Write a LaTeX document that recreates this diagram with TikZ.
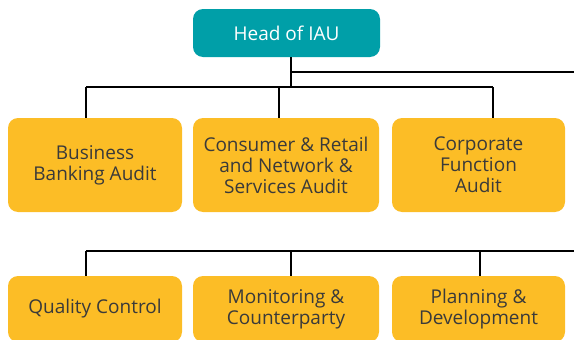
\documentclass[tikz,border=0pt]{standalone}
\usepackage{fontspec}
\setmainfont{Open Sans}
\usetikzlibrary{positioning}
\definecolor{iauteal}{HTML}{009FA8}
\definecolor{iauyellow}{HTML}{FCBD26}
\definecolor{iautext}{HTML}{3A3A3A}

\begin{document}
\begin{tikzpicture}[x=1pt, y=-1pt,
  unit/.style={fill=iauyellow, rounded corners=10pt, text=iautext,
    font=\fontsize{19}{21}\selectfont, align=center,
    inner sep=0pt, minimum height=94pt},
  headbox/.style={unit, fill=iauteal, text=white, minimum height=48pt},
  lowunit/.style={unit, minimum height=66pt},
  link/.style={draw=black, line width=1.4pt}]
\useasboundingbox (0,0) rectangle (574,340);
\node[headbox, minimum width=187pt] (head) at (286.5,33) {Head of IAU};
% first row
\node[unit, minimum width=174pt] (bba) at (95,165) {Business\\Banking Audit};
\node[unit, minimum width=186pt] (crs) at (286,165) {Consumer \& Retail\\and Network \&\\Services Audit};
\node[unit, minimum width=173pt] (cfa) at (478.5,165) {Corporate\\Function\\Audit};
% second row
\node[lowunit, minimum width=174pt] (qc) at (95,309) {Quality Control};
\node[lowunit, minimum width=186pt] (mc) at (286,309) {Monitoring \&\\Counterparty};
\node[lowunit, minimum width=173pt] (pd) at (478.5,309) {Planning \&\\Development};
% joints
\coordinate (hub) at (291,87);
\coordinate (east1) at (574,72);
\coordinate (d1) at (86,87);
\coordinate (d2) at (279,87);
\coordinate (d3) at (493,87);
\coordinate (e1) at (86,251);
\coordinate (e2) at (291,251);
\coordinate (e3) at (480,251);
\coordinate (east2) at (574,251);
\draw[link] (head.south -| hub) -- (hub);
\draw[link] (hub |- east1) -- (east1);
\draw[link] (d1) -- (d3);
\draw[link] (e1) -- (east2);
\foreach \d/\b in {d1/bba, d2/crs, d3/cfa, e1/qc, e2/mc, e3/pd}
  \draw[link] (\d) -- (\d |- \b.north);
\end{tikzpicture}
\end{document}
